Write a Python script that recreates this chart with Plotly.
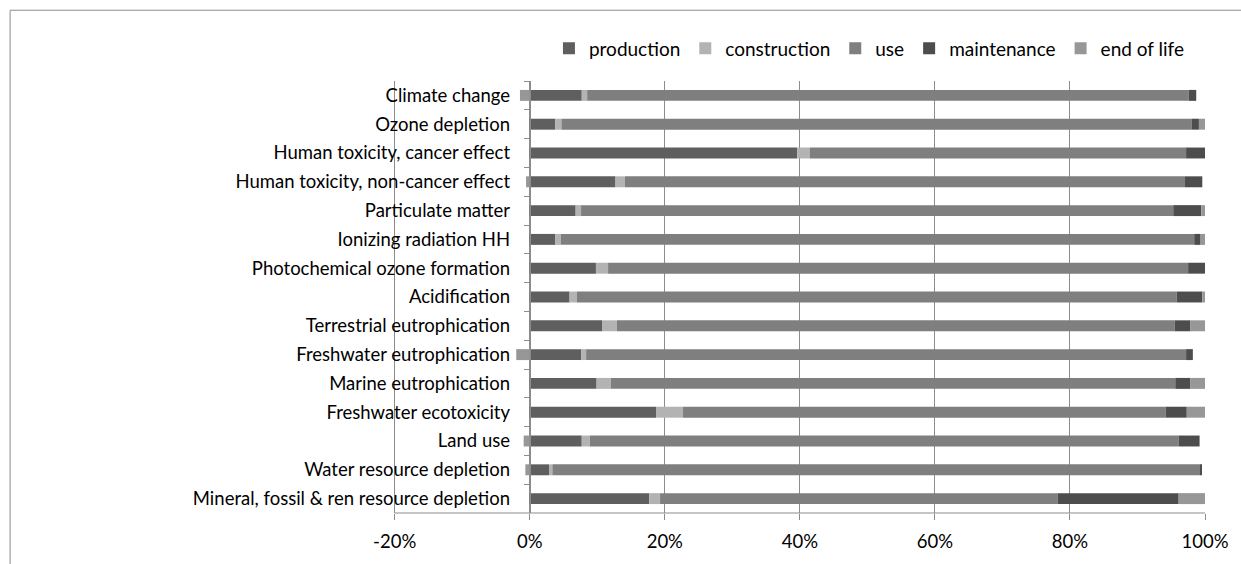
import plotly.graph_objects as go

categories = [
    "Climate change",
    "Ozone depletion",
    "Human toxicity, cancer effect",
    "Human toxicity, non-cancer effect",
    "Particulate matter",
    "Ionizing radiation HH",
    "Photochemical ozone formation",
    "Acidification",
    "Terrestrial eutrophication",
    "Freshwater eutrophication",
    "Marine eutrophication",
    "Freshwater ecotoxicity",
    "Land use",
    "Water resource depletion",
    "Mineral, fossil & ren resource depletion",
]
production   = [7.7, 3.8, 39.6, 12.7, 6.8, 3.8, 9.8, 5.9, 10.7, 7.6, 9.9, 18.7, 7.7, 2.85, 17.7]
construction = [0.8, 0.9, 1.9, 1.4, 0.8, 0.8, 1.8, 1.1, 2.2, 0.75, 2.1, 4.0, 1.2, 0.5, 1.6]
use          = [89.1, 93.3, 55.7, 82.85, 87.7, 93.8, 85.9, 88.8, 82.6, 88.85, 83.6, 71.5, 87.2, 95.95, 58.9]
maintenance  = [1.1, 1.1, 2.8, 2.65, 4.15, 0.95, 2.5, 3.8, 2.35, 1.0, 2.25, 3.1, 3.1, 0.2, 17.9]
end_of_life  = [-1.45, 0.9, 0.0, -0.55, 0.55, 0.65, 0.0, 0.4, 2.15, -2.0, 2.15, 2.7, -0.9, -0.65, 3.9]

series_names = ["production", "construction", "use", "maintenance", "end of life"]
series_values = [production, construction, use, maintenance, end_of_life]
series_colors = ["#5f5f5f", "#b3b3b3", "#7f7f7f", "#4d4d4d", "#979797"]

x_tick_vals = [-20, 0, 20, 40, 60, 80, 100]
x_tick_labels = ["-20%", "0%", "20%", "40%", "60%", "80%", "100%"]

# layout geometry (pixels)
W, H = 1241, 564
PL, PR, PT, PB = 395, 1209.3, 81, 517.5
XMIN, XMAX = -20, 100
PPU = (PR - PL) / (XMAX - XMIN)      # pixels per percent
XPAD = 0.4                            # small pad so the -20% gridline is drawn
PL2 = PL - XPAD * PPU
PW, PH = PR - PL2, PB - PT

def px_x(p):
    return (p - PL2) / PW

def px_y(p):
    return (PB - p) / PH

FONT = "Lato"
GRID = "#8c8c8c"

fig = go.Figure()
for name, vals, col in zip(series_names, series_values, series_colors):
    fig.add_trace(go.Bar(
        y=categories, x=vals, name=name, orientation="h",
        marker=dict(color=col, line=dict(width=0)),
    ))

fig.update_layout(
    width=W, height=H,
    margin=dict(l=PL2, r=W - PR, t=PT, b=H - PB, pad=0),
    paper_bgcolor="white", plot_bgcolor="white",
    barmode="relative", bargap=0.62,
    font=dict(family=FONT, size=18.5, color="#000000"),
    showlegend=True,
    legend=dict(
        orientation="h", x=px_x(550), xanchor="left",
        y=px_y(48), yanchor="middle",
        font=dict(family=FONT, size=19, color="#000000"),
        itemwidth=30, traceorder="normal", bgcolor="rgba(0,0,0,0)",
    ),
    xaxis=dict(
        range=[XMIN - XPAD, XMAX], tickvals=x_tick_vals, ticktext=x_tick_labels,
        showgrid=True, gridcolor=GRID, gridwidth=1, zeroline=False,
        showline=False,
        ticks="outside", ticklen=6, tickcolor=GRID, tickwidth=1,
        ticklabelstandoff=6,
        tickfont=dict(family=FONT, size=18.5, color="#000000"),
        fixedrange=True,
    ),
    yaxis=dict(
        anchor="free", position=(0 - (XMIN - XPAD)) / (XMAX - XMIN + XPAD),
        autorange="reversed", type="category",
        showgrid=False, zeroline=False,
        showline=True, linecolor=GRID, linewidth=1,
        ticks="outside", ticklen=6, tickcolor=GRID, tickwidth=1,
        tickson="boundaries", ticklabelstandoff=16,
        tickfont=dict(family=FONT, size=18.5, color="#000000"),
        fixedrange=True,
    ),
    shapes=[
        dict(
            type="rect", xref="paper", yref="paper", layer="below",
            x0=px_x(8.5), x1=px_x(1300), y0=px_y(620), y1=px_y(9.5),
            line=dict(color="#8c8c8c", width=1), fillcolor="rgba(0,0,0,0)",
        ),
        # bottom axis line spanning -20% .. 100%
        dict(
            type="line", xref="x", yref="paper", layer="above",
            x0=XMIN, x1=XMAX, y0=0, y1=0,
            line=dict(color=GRID, width=1),
        ),
    ],
)

fig.write_html("out.html")
